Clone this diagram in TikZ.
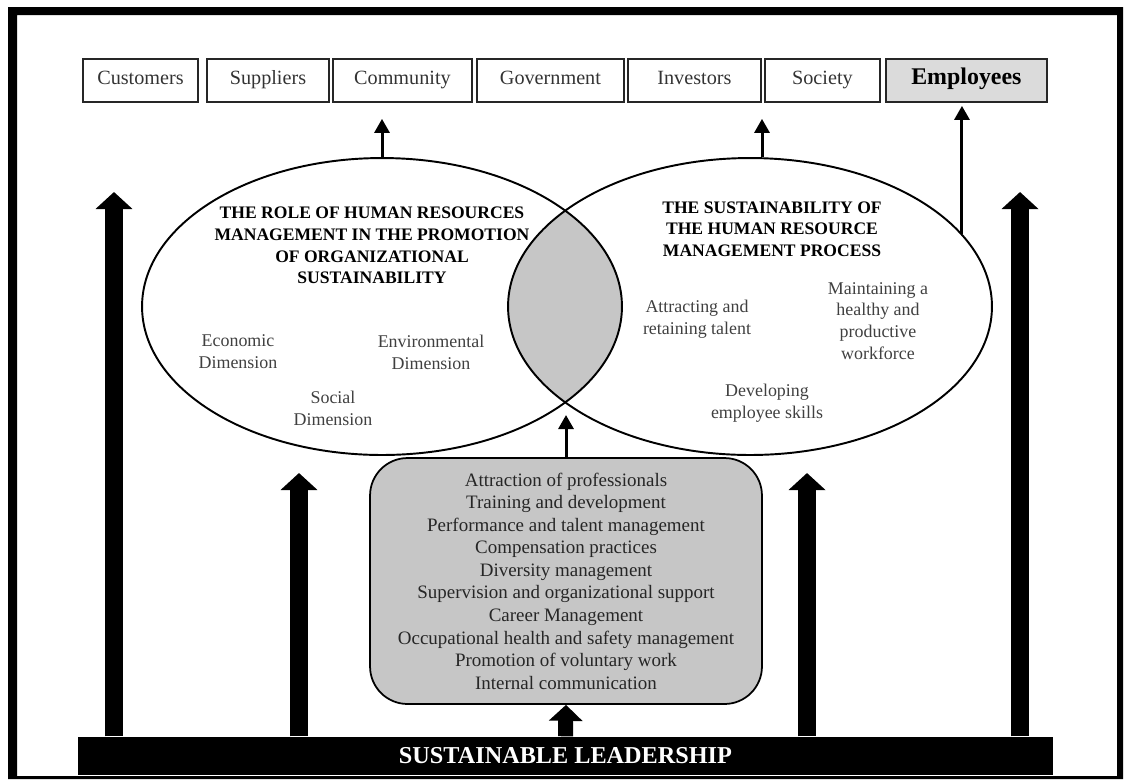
\documentclass[tikz,border=0pt]{standalone}
\usepackage{fontspec}
\setmainfont{Liberation Serif}
\usetikzlibrary{positioning,shapes.geometric,arrows.meta}

\begin{document}
\begin{tikzpicture}[x=0.02cm, y=-0.02cm, thick,
    stake/.style={draw=black!85, line width=1pt, minimum height=0.86cm, inner sep=0pt, text height=0.72em, text depth=0.24em, text=black!80, font=\fontsize{11.5}{13}\selectfont},
    circ/.style={ellipse, draw, line width=1.1pt, minimum height=5.94cm, inner sep=0pt},
    title/.style={align=center, font=\bfseries\fontsize{10}{12.3}\selectfont},
    dim/.style={align=center, text=black!75, font=\fontsize{10.2}{12.4}\selectfont},
    lens/.style={fill=gray!45},
    tiparrow/.style={line width=0.06cm, -{Triangle[width=0.3cm,length=0.28cm]}},
    pillar/.style={line width=0.35cm, -{Triangle[width=0.72cm,length=0.34cm]}}]
    \useasboundingbox (0,0) rectangle (1125,779);
    \fill[even odd rule] (8,7) rectangle (1123,779) (17,15) rectangle (1117,776);

    \node[stake, minimum width=2.3cm] (cust) at (140.5,80.5) {Customers};
    \node[stake, minimum width=2.44cm, right=0.145cm of cust] (supp) {Suppliers};
    \node[stake, minimum width=2.78cm, right=0.045cm of supp] (comm) {Community};
    \node[stake, minimum width=2.94cm, right=0.065cm of comm] (gov) {Government};
    \node[stake, minimum width=2.66cm, right=0.045cm of gov] (inv) {Investors};
    \node[stake, minimum width=2.3cm, right=0.045cm of inv] (soc) {Society};
    \node[stake, minimum width=3.22cm, right=0.085cm of soc, fill=gray!28, text=black, font=\bfseries\fontsize{13.6}{15}\selectfont] (emp) {Employees};

    \begin{scope}
        \clip (382,306.5) ellipse [x radius=4.8cm, y radius=2.97cm];
        \fill[lens] (750,306.5) ellipse [x radius=4.84cm, y radius=2.97cm];
    \end{scope}
    \node[circ, minimum width=9.6cm] (role) at (382,306.5) {};
    \node[circ, minimum width=9.68cm] (proc) at (750,306.5) {};

    \node[title] (roleT) at (372,245.5) {THE ROLE OF HUMAN RESOURCES\\ MANAGEMENT IN THE PROMOTION\\ OF ORGANIZATIONAL\\ SUSTAINABILITY};
    \node[title] (procT) at (772,229) {THE SUSTAINABILITY OF\\ THE HUMAN RESOURCE\\ MANAGEMENT PROCESS};
    \node[dim] (econ) at (238,352) {Economic\\ Dimension};
    \node[dim] (env) at (431,352) {Environmental\\ Dimension};
    \node[dim] (soci) at (333,408) {Social\\ Dimension};
    \node[dim] (talent) at (697,319) {Attracting and\\ retaining talent};
    \node[dim] (health) at (878,321) {Maintaining a\\ healthy and\\ productive\\ workforce};
    \node[dim] (skills) at (767,403) {Developing\\ employee skills};

    \node[draw, line width=1pt, fill=gray!45, rounded corners=0.75cm, minimum width=7.84cm, minimum height=4.92cm, align=center, text=black!85, font=\fontsize{10.8}{12.85}\selectfont] (hrm) at (566,581) {Attraction of professionals\\ Training and development\\ Performance and talent management\\ Compensation practices\\ Diversity management\\ Supervision and organizational support\\ Career Management\\ Occupational health and safety management\\ Promotion of voluntary work\\ Internal communication};

    \node[fill=black, text=white, minimum width=19.5cm, minimum height=0.76cm, inner sep=0pt, font=\bfseries\fontsize{13.8}{15}\selectfont] (lead) at (565.5,756) {SUSTAINABLE LEADERSHIP};

    \coordinate (outL) at (114,192);
    \coordinate (inL) at (299,473);
    \coordinate (inR) at (807,473);
    \coordinate (outR) at (1020,192);
    \foreach \p in {outL,inL,inR,outR}
        \draw[pillar] (\p |- lead.north) -- (\p);
    \draw[line width=0.3cm, -{Triangle[width=0.66cm,length=0.32cm]}] (lead.north) -- (hrm.south);

    \coordinate (meet) at (566,415);
    \coordinate (upR) at ([xshift=0.24cm]proc.north);
    \draw[tiparrow] (hrm.north) -- (meet);
    \draw[tiparrow, shorten >=0.32cm] (role.north) -- (role.north |- comm.south);
    \draw[tiparrow, shorten >=0.32cm] (upR) -- (upR |- inv.south);
    \draw[tiparrow, shorten >=0.06cm] (proc.19) -- (proc.19 |- emp.south);
\end{tikzpicture}
\end{document}
